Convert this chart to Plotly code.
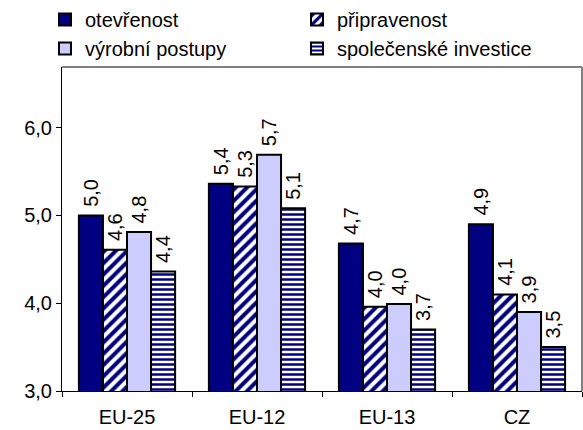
import plotly.graph_objects as go

categories = ["EU-25", "EU-12", "EU-13", "CZ"]
series_names = ["otevřenost", "připravenost", "výrobní postupy", "společenské investice"]
otevrenost = [5.00, 5.36, 4.68, 4.90]
pripravenost = [4.61, 5.33, 3.96, 4.10]
vyrobni_postupy = [4.81, 5.69, 3.99, 3.90]
spolecenske_investice = [4.36, 5.08, 3.70, 3.50]
y_ticks = [3, 4, 5, 6]

NAVY = "#000080"
LAV = "#CCCCFF"
FONT = "Liberation Sans, Arial, sans-serif"

styles = [
    dict(color=NAVY, pattern=None),
    dict(color="white", pattern=dict(shape="/", fgcolor=NAVY, bgcolor="white", size=8, solidity=0.5, fillmode="replace")),
    dict(color=LAV, pattern=None),
    dict(color="white", pattern=dict(shape="-", fgcolor=NAVY, bgcolor="white", size=5, solidity=0.5, fillmode="replace")),
]

data = [otevrenost, pripravenost, vyrobni_postupy, spolecenske_investice]

fig = go.Figure()
for name, vals, st in zip(series_names, data, styles):
    marker = dict(color=st["color"], line=dict(color="black", width=2))
    if st["pattern"]:
        marker["pattern"] = st["pattern"]
    fig.add_trace(go.Bar(
        x=categories, y=vals, name=name, marker=marker,
        texttemplate="\u00a0%{y:.1f}", textposition="outside", textangle=-90,
        constraintext="none", cliponaxis=False,
        textfont=dict(family=FONT, size=20, color="black"),
    ))

fig.update_layout(
    width=583, height=430,
    margin=dict(l=62, r=1, t=67, b=39, autoexpand=False),
    paper_bgcolor="white", plot_bgcolor="white",
    separators=", ",
    barmode="group", bargap=0.26, bargroupgap=0,
    font=dict(family=FONT, size=20, color="black"),
    showlegend=True,
    legend=dict(
        orientation="h", xref="container", yref="container",
        x=45/583, y=1, xanchor="left", yanchor="top",
        entrywidth=207, entrywidthmode="pixels",
        font=dict(family=FONT, size=20, color="black"),
        tracegroupgap=0, itemsizing="constant",
        bgcolor="rgba(0,0,0,0)",
    ),
    xaxis=dict(
        showline=True, linecolor="black", linewidth=1,
        ticks="outside", tickson="boundaries", ticklen=5, tickcolor="black",
        ticklabelstandoff=8,
        showgrid=False, tickfont=dict(family=FONT, size=20),
    ),
    yaxis=dict(
        range=[3, 6.69], tickvals=y_ticks, tickformat=".1f",
        showline=True, linecolor="black", linewidth=1,
        ticks="outside", ticklen=5, tickcolor="black",
        showgrid=False, zeroline=False, tickfont=dict(family=FONT, size=20),
    ),
    shapes=[
        dict(type="line", xref="paper", yref="paper", x0=0, x1=1, y0=1, y1=1,
             line=dict(color="#808080", width=2)),
        dict(type="line", xref="paper", yref="paper", x0=1, x1=1, y0=0, y1=1,
             line=dict(color="#808080", width=2)),
    ],
)

fig.write_html("out.html")
